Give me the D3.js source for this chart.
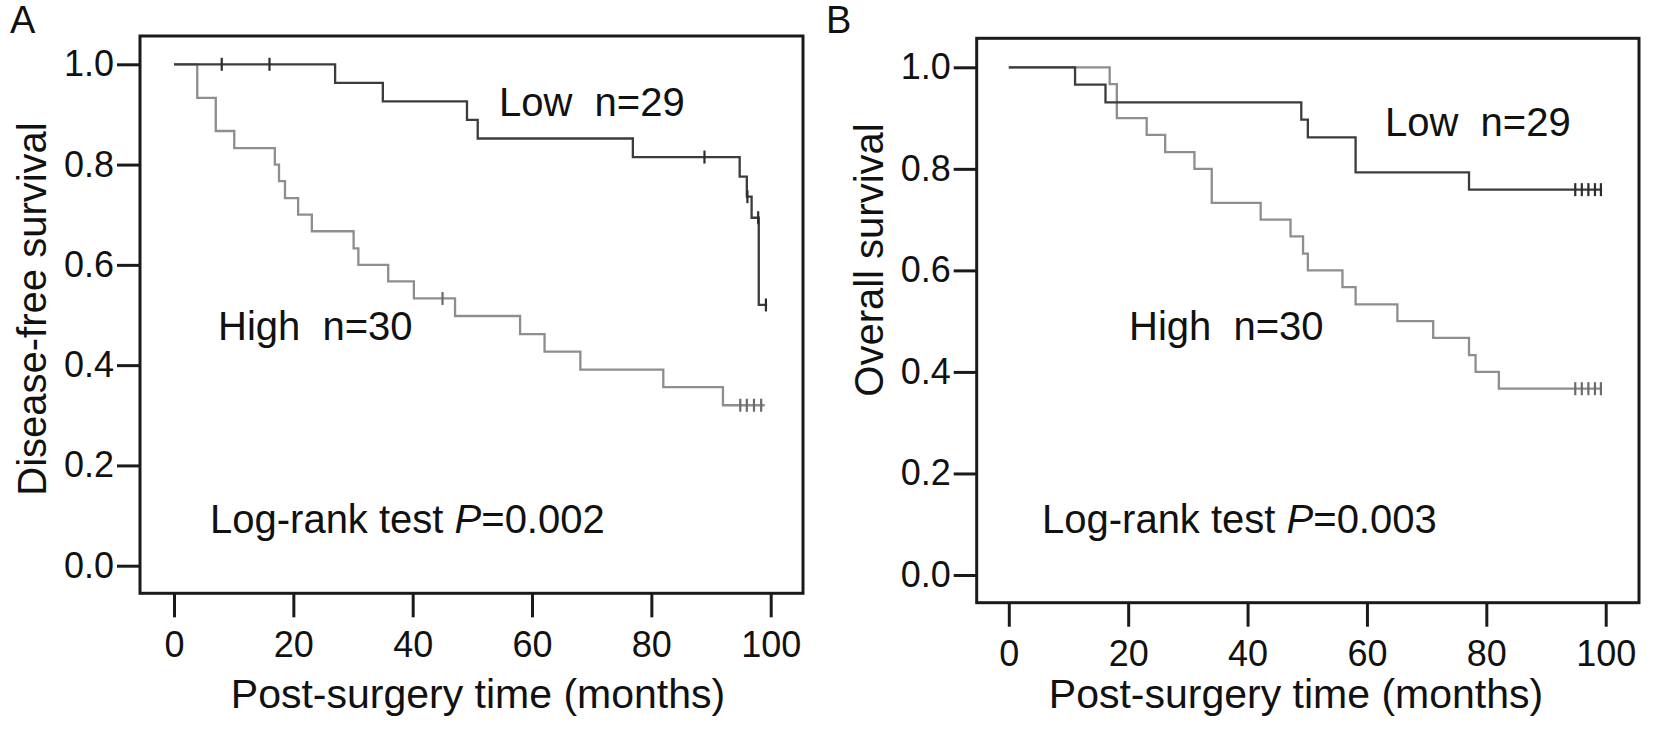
<!DOCTYPE html>
<html>
<head>
<meta charset="utf-8">
<script src="https://cdn.jsdelivr.net/npm/d3@7"></script>
<style>
  body { margin: 0; background: #fff; }
  text { font-family: "Liberation Sans", Arial, sans-serif; fill: #111; }
</style>
</head>
<body>
<svg width="1654" height="732"></svg>
<script>
// Kaplan-Meier step values (months, survival)
var lowA_time  = [0, 27.0, 35.0, 49.1, 50.9, 76.9, 94.8, 96.0, 96.8, 98.0, 99.4];
var lowA_surv  = [1, 0.963, 0.926, 0.889, 0.852, 0.815, 0.776, 0.736, 0.694, 0.52, 0.52];
var lowA_cens  = [8, 16, 88.9, 96.1, 97.9, 99.2];

var highA_time = [0, 3.9, 7.0, 10.1, 16.9, 17.6, 18.6, 20.8, 23.1, 30.1, 30.9, 35.9, 40.2, 47.1, 58.0, 62.1, 68.1, 82.0, 92.0, 99.0];
var highA_surv = [1, 0.933, 0.867, 0.833, 0.8, 0.767, 0.733, 0.7, 0.667, 0.633, 0.6, 0.567, 0.533, 0.498, 0.462, 0.427, 0.391, 0.356, 0.32, 0.32];
var highA_cens = [45.0, 94.9, 96.0, 97.2, 98.4];

var lowB_time  = [0, 11.1, 16.2, 49.0, 50.1, 58.1, 77.1, 99.4];
var lowB_surv  = [1, 0.966, 0.931, 0.897, 0.862, 0.793, 0.759, 0.759];
var lowB_cens  = [94.9, 96.0, 97.1, 98.2, 99.2];

var highB_time = [0, 16.9, 18.1, 23.1, 26.2, 31.1, 34.0, 42.2, 47.2, 49.3, 50.1, 55.9, 58.1, 65.1, 71.1, 77.1, 78.2, 82.1, 99.4];
var highB_surv = [1, 0.967, 0.9, 0.867, 0.833, 0.8, 0.733, 0.7, 0.667, 0.633, 0.6, 0.567, 0.533, 0.5, 0.467, 0.433, 0.4, 0.367, 0.367];
var highB_cens = [94.9, 96.0, 97.1, 98.2, 99.2];

var xTicks = [0, 20, 40, 60, 80, 100];
var yTicks = [0, 0.2, 0.4, 0.6, 0.8, 1.0];

var panelLetters = ['A', 'B'];
var yTitles = ['Disease-free survival', 'Overall survival'];
var xTitle = 'Post-surgery time (months)';
var lowLabel = 'Low  n=29';
var highLabel = 'High  n=30';
var pValues = ['0.002', '0.003'];

var svg = d3.select('svg');

// layout of each panel (pixel positions, not data)
var panels = [
    {box: {l: 140, r: 803, t: 36, b: 593.3}, x0: 174, x100: 770.7, y0: 565.7, y1: 64.3,
     letterX: 10, yTitleX: 46, yTitleY: 309, xTitleX: 478,
     low: {t: lowA_time, s: lowA_surv, c: lowA_cens}, high: {t: highA_time, s: highA_surv, c: highA_cens},
     lowPos: [499, 116], highPos: [218, 340], pPos: [210, 533]},
    {box: {l: 976.7, r: 1639, t: 38.3, b: 602.7}, x0: 1008.8, x100: 1605.7, y0: 575, y1: 67.3,
     letterX: 826, yTitleX: 883, yTitleY: 260, xTitleX: 1296,
     low: {t: lowB_time, s: lowB_surv, c: lowB_cens}, high: {t: highB_time, s: highB_surv, c: highB_cens},
     lowPos: [1385, 136], highPos: [1129, 340], pPos: [1042, 533]}
];

var lowColor = '#3c3c3c';
var highColor = '#8e8e8e';

panels.forEach(function(p, i) {
    var xScale = d3.scaleLinear().domain([0, 100]).range([p.x0, p.x100]);
    var yScale = d3.scaleLinear().domain([0, 1]).range([p.y0, p.y1]);
    var g = svg.append('g');

    // plot frame
    g.append('rect')
        .attr('x', p.box.l).attr('y', p.box.t)
        .attr('width', p.box.r - p.box.l).attr('height', p.box.b - p.box.t)
        .attr('fill', 'none').attr('stroke', '#1a1a1a').attr('stroke-width', 3);

    // axes
    var yAxisG = g.append('g')
        .attr('transform', 'translate(' + p.box.l + ',0)')
        .call(d3.axisLeft(yScale).tickValues(yTicks).tickSize(23).tickPadding(3)
            .tickFormat(d3.format('.1f')));
    var xAxisG = g.append('g')
        .attr('transform', 'translate(0,' + p.box.b + ')')
        .call(d3.axisBottom(xScale).tickValues(xTicks).tickSize(24).tickPadding(14));
    [yAxisG, xAxisG].forEach(function(ax) {
        ax.select('.domain').remove();
        ax.selectAll('line').attr('stroke', '#1a1a1a').attr('stroke-width', 3);
        ax.selectAll('text').style('font-size', '36px').attr('fill', '#111');
    });

    // curves
    var line = d3.line()
        .x(function(d) { return xScale(d[0]); })
        .y(function(d) { return yScale(d[1]); })
        .curve(d3.curveStepAfter);

    [[p.high, highColor], [p.low, lowColor]].forEach(function(pair) {
        var series = pair[0];
        var pts = series.t.map(function(t, k) { return [t, series.s[k]]; });
        g.append('path')
            .attr('d', line(pts))
            .attr('fill', 'none')
            .attr('stroke', pair[1])
            .attr('stroke-width', 2.3);

        // censoring marks sit on the step value at that time
        var bis = d3.bisector(function(d) { return d; }).right;
        g.selectAll(null)
            .data(series.c)
            .enter().append('line')
            .attr('x1', function(c) { return xScale(c); })
            .attr('x2', function(c) { return xScale(c); })
            .attr('y1', function(c) { return yScale(series.s[bis(series.t, c) - 1]) - 6.5; })
            .attr('y2', function(c) { return yScale(series.s[bis(series.t, c) - 1]) + 6.5; })
            .attr('stroke', d3.color(pair[1]).darker(0.8))
            .attr('stroke-width', 2.2);
    });

    // texts
    svg.append('text').attr('x', p.letterX).attr('y', 33)
        .style('font-size', '38px').text(panelLetters[i]);

    svg.append('text')
        .attr('transform', 'translate(' + p.yTitleX + ',' + p.yTitleY + ') rotate(-90)')
        .attr('text-anchor', 'middle')
        .style('font-size', '40px')
        .text(yTitles[i]);

    svg.append('text')
        .attr('x', p.xTitleX).attr('y', 708)
        .attr('text-anchor', 'middle')
        .style('font-size', '41px')
        .text(xTitle);

    svg.append('text').attr('x', p.lowPos[0]).attr('y', p.lowPos[1])
        .style('font-size', '40px').attr('xml:space', 'preserve').text(lowLabel);
    svg.append('text').attr('x', p.highPos[0]).attr('y', p.highPos[1])
        .style('font-size', '40px').attr('xml:space', 'preserve').text(highLabel);

    var pt = svg.append('text').attr('x', p.pPos[0]).attr('y', p.pPos[1])
        .style('font-size', '40px').attr('xml:space', 'preserve');
    pt.append('tspan').text('Log-rank test ');
    pt.append('tspan').style('font-style', 'italic').text('P');
    pt.append('tspan').text('=' + pValues[i]);
});
</script>
</body>
</html>
